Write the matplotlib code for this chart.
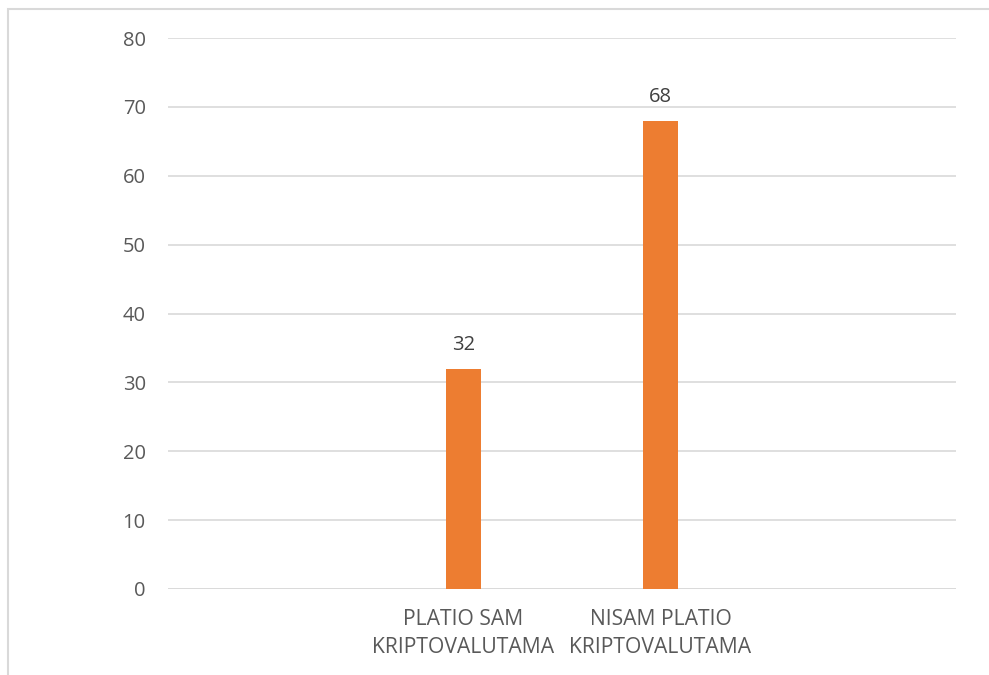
import matplotlib
matplotlib.use("Agg")
import matplotlib.pyplot as plt
from matplotlib.patches import Rectangle

categories = ["", "PLATIO SAM\nKRIPTOVALUTAMA", "NISAM PLATIO\nKRIPTOVALUTAMA", ""]
values = [0, 32, 68, 0]
labels = ["", "32", "68", ""]
yticks = [0, 10, 20, 30, 40, 50, 60, 70, 80]

plt.rcParams['font.family'] = ['Open Sans', 'DejaVu Sans']
W, H = 989, 675
fig = plt.figure(figsize=(W/100, H/100), dpi=100)
ax = fig.add_axes([168/W, 1-589/H, (956-168)/W, (589-38)/H])

x = list(range(len(categories)))
bars = ax.bar(x, values, width=0.175, color="#ED7D31", zorder=3)
for xi, v, lab in zip(x, values, labels):
    if lab:
        ax.annotate(lab, (xi, v), xytext=(0, 10), textcoords="offset points",
                    ha="center", va="bottom", fontsize=14.5, color="#404040")

ax.set_xlim(-0.5, len(categories)-0.5)
ax.set_ylim(0, 80)
ax.set_yticks(yticks)
ax.set_xticks(x)
ax.set_xticklabels(categories, fontsize=15.2, color="#595959", linespacing=1.45)
ax.tick_params(axis='y', length=0, pad=16, labelsize=14.5, labelcolor="#595959")
ax.tick_params(axis='x', length=0, pad=14.5)
ax.grid(axis='y', color="#d9d9d9", linewidth=1.2, zorder=0)
for s in ax.spines.values():
    s.set_visible(False)
ax.axhline(0, color="#d9d9d9", linewidth=1.2, zorder=2)

fig.patches.append(Rectangle((7.5/W, -0.1), 1.2, 1 - 9/H + 0.1, transform=fig.transFigure,
                             fill=False, edgecolor="#d9d9d9", linewidth=1.5))
fig.savefig("out.png", dpi=100)
